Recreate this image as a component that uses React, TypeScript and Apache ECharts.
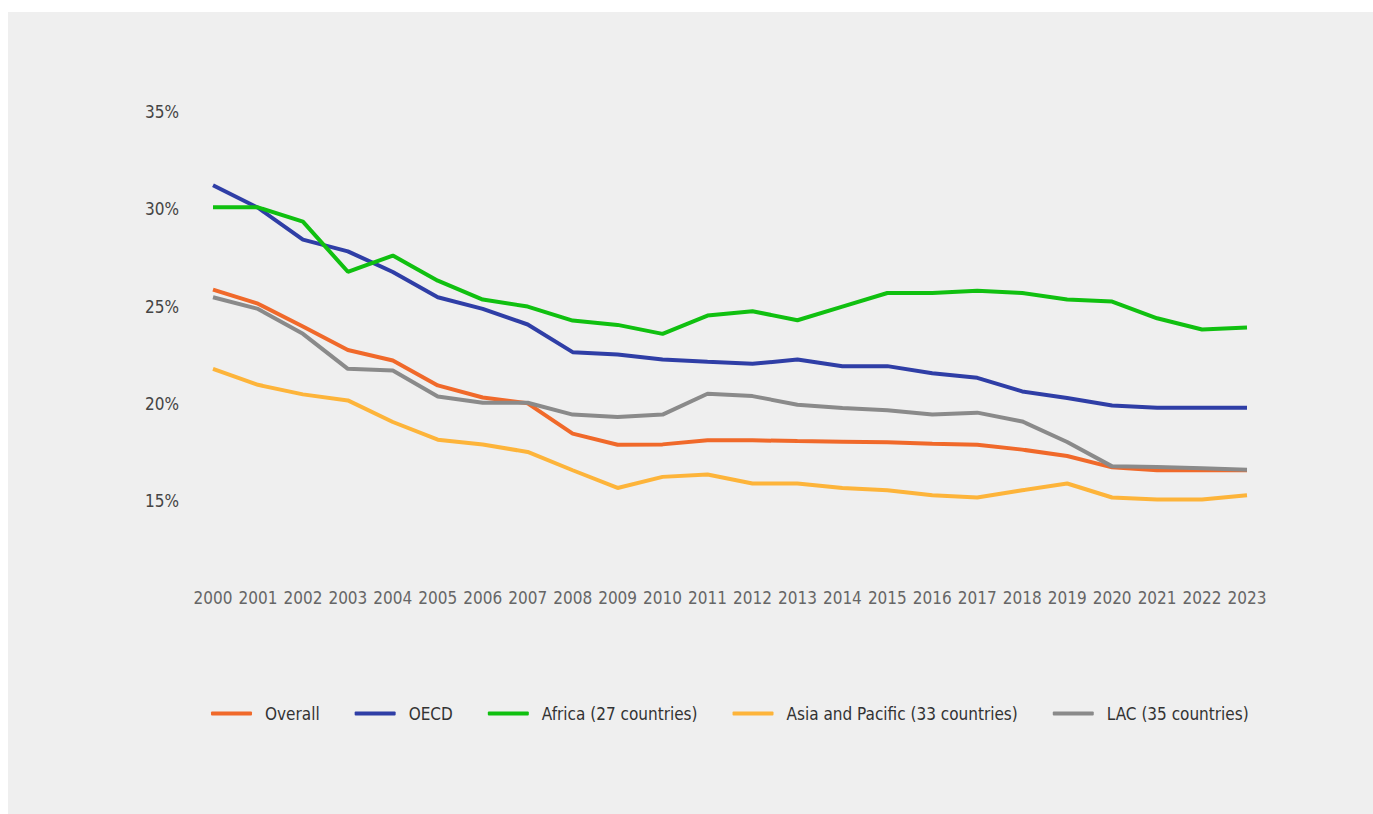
import React, { useEffect, useRef } from "react";
import * as echarts from "echarts";

const years = ["2000","2001","2002","2003","2004","2005","2006","2007","2008","2009","2010","2011","2012","2013","2014","2015","2016","2017","2018","2019","2020","2021","2022","2023"];

const overall = [25.87,25.15,23.98,22.77,22.23,20.95,20.33,20.03,18.47,17.9,17.92,18.13,18.13,18.09,18.06,18.03,17.95,17.9,17.65,17.32,16.74,16.59,16.59,16.59];
const oecd = [31.24,30.08,28.44,27.84,26.78,25.48,24.88,24.08,22.66,22.54,22.28,22.16,22.06,22.28,21.94,21.94,21.58,21.34,20.64,20.3,19.92,19.8,19.8,19.8];
const africa = [30.1,30.1,29.37,26.79,27.62,26.33,25.36,25.0,24.28,24.06,23.6,24.54,24.76,24.3,25.0,25.7,25.7,25.82,25.7,25.36,25.26,24.4,23.82,23.92];
const asiaPacific = [21.8,20.98,20.49,20.18,19.07,18.16,17.91,17.53,16.59,15.68,16.25,16.37,15.91,15.91,15.68,15.56,15.31,15.19,15.56,15.91,15.19,15.09,15.09,15.31];
const lac = [25.48,24.88,23.6,21.8,21.72,20.38,20.06,20.06,19.45,19.33,19.45,20.52,20.4,19.96,19.79,19.67,19.45,19.55,19.1,18.04,16.79,16.76,16.69,16.62];

const seriesNames = ["Overall","OECD","Africa (27 countries)","Asia and Pacific (33 countries)","LAC (35 countries)"];
const seriesColors = ["#f0692a","#2f3ea6","#10c010","#fdb43a","#8a8a8a"];
const seriesData = [overall, oecd, africa, asiaPacific, lac];

const yTicks = { min: 10, max: 35, interval: 5 };

const FONT = "'Liberation Sans Narrow', 'DejaVu Sans Condensed', 'Roboto', sans-serif";

export default function App() {
  const ref = useRef<HTMLDivElement>(null);
  useEffect(() => {
    if (!ref.current) return;
    const chart = echarts.init(ref.current, undefined, { renderer: "svg" });
    chart.setOption({
      animation: false,
      backgroundColor: "#efefef",
      textStyle: { fontFamily: FONT },
      grid: { left: 205, right: 126, top: 100, bottom: 215.5, containLabel: false },
      legend: {
        data: seriesNames,
        icon: "roundRect",
        left: 198,
        top: 688,
        itemWidth: 41,
        itemHeight: 4,
        itemGap: 35,
        textStyle: { color: "#333", fontSize: 17, fontFamily: FONT, padding: [0, 0, 0, 8] },
      },
      xAxis: {
        type: "category",
        data: years,
        boundaryGap: false,
        offset: -17,
        axisLine: { show: false },
        axisTick: { show: false },
        axisLabel: { color: "#666", fontSize: 17, margin: 8, interval: 0, fontFamily: FONT },
        splitLine: { show: false },
      },
      yAxis: {
        type: "value",
        min: yTicks.min,
        max: yTicks.max,
        interval: yTicks.interval,
        axisLine: { show: false },
        axisTick: { show: false },
        splitLine: { show: false },
        axisLabel: {
          color: "#444",
          fontSize: 17,
          margin: 34,
          fontFamily: FONT,
          showMinLabel: false,
          formatter: (v: number) => (v === yTicks.min ? "" : v + "%"),
        },
      },
      series: seriesNames.map((name, i) => ({
        name,
        type: "line",
        data: seriesData[i],
        symbol: "none",
        color: seriesColors[i],
        lineStyle: { width: 4, color: seriesColors[i] },
        emphasis: { disabled: true },
      })),
    });
    return () => chart.dispose();
  }, []);
  return (
    <div
      ref={ref}
      style={{ position: "fixed", left: 8, top: 12, width: 1365, height: 802 }}
    />
  );
}
